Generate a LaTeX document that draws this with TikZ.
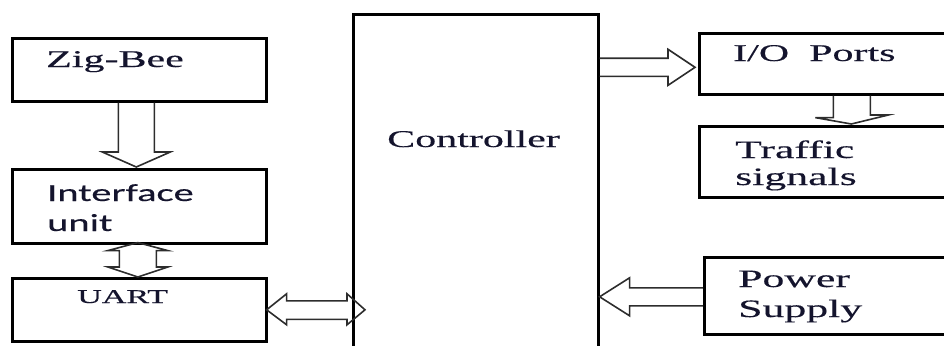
\documentclass[tikz,border=0pt]{standalone}
\usepackage{fontspec}
\usetikzlibrary{calc}
\newfontfamily\stserif[FakeStretch=1.75,FakeBold=0.3]{Liberation Serif}
\newfontfamily\stsans[FakeStretch=1.65,FakeBold=0.3]{Carlito}
\definecolor{txt}{RGB}{20,20,45}
\definecolor{arr}{RGB}{45,45,45}
\begin{document}
\begin{tikzpicture}[x=1pt,y=-1pt,
  box/.style={draw=black,line width=2.6pt,rectangle,inner sep=0pt,anchor=north west},
  lbl/.style={text=txt,inner sep=0pt,anchor=base west,align=left},
  barrow/.style={draw=arr,line width=1.6pt,line join=miter}]
\useasboundingbox (0,0) rectangle (944,345);
\clip (0,0) rectangle (944,345);
% boxes
\node[box,minimum width=254pt,minimum height=63pt] (zig) at (11,37) {};
\node[box,minimum width=254pt,minimum height=74pt] (iface) at (11,168) {};
\node[box,minimum width=254pt,minimum height=63pt] (uart) at (11,277) {};
\node[box,minimum width=245pt,minimum height=360pt] (ctrl) at (352,13) {};
\node[box,minimum width=270pt,minimum height=61pt] (io) at (698,32) {};
\node[box,minimum width=270pt,minimum height=71pt] (traffic) at (698,125) {};
\node[box,minimum width=265pt,minimum height=77pt] (power) at (703,256) {};
% labels
\node[lbl,font=\stserif\fontsize{24}{24}\selectfont] (tzig) at ($(zig.north west)+(35,30)$) {Zig-Bee};
\node[lbl,font=\stsans\fontsize{24.5}{30}\selectfont] (tiface) at ($(iface.north west)+(36,63)$) {Interface\\unit};
\node[lbl,font=\stserif\fontsize{19.5}{20}\selectfont] (tuart) at ($(uart.north west)+(66,26)$) {UART};
\node[lbl,font=\stserif\fontsize{24}{24}\selectfont] (tctrl) at ($(ctrl.north west)+(35,134)$) {Controller};
\node[lbl,font=\stserif\fontsize{24}{24}\selectfont] (tio) at ($(io.north west)+(35,29)$) {I/O\hspace{20pt}Ports};
\node[lbl,font=\stserif\fontsize{25}{27}\selectfont] (ttraffic) at ($(traffic.north west)+(37,60)$) {Traffic\\signals};
\node[lbl,font=\stserif\fontsize{25}{30}\selectfont] (tpower) at ($(power.north west)+(35,61)$) {Power\\Supply};
% block arrows
\draw[barrow] ($(zig.south)+(-21,0)$) -- ($(iface.north)+(-21,-16)$) -- ++(-16,0)
  -- ($(iface.north)+(-3,-1)$) -- ++(34,-15) -- ++(-16,0) -- ($(zig.south)+(15,0)$);
\draw[barrow] ($(iface.south)+(-1.5,-2)$) -- ++(30,8) -- ++(-11.5,0)
  -- ($(uart.north)+(17,-10)$) -- ++(11.5,0) -- ($(uart.north)+(-1.5,0)$)
  -- ++(-30,-10) -- ++(11.5,0) -- ($(iface.south)+(-20,6)$) -- ++(-11.5,0) -- cycle;
\coordinate (u3) at ($(uart.east)+(-1,0)$);
\coordinate (c3) at ($(ctrl.west |- uart.east)+(13,0)$);
\draw[barrow] (u3) -- ++(20,-16) -- ++(0,7) -- ($(c3)+(-18,-9)$) -- ++(0,-7)
  -- (c3) -- ++(-18,15) -- ++(0,-5.5) -- ($(u3)+(20,9.5)$) -- ++(0,5.5) -- cycle;
\coordinate (t4) at ($(io.west)+(-3,3.5)$);
\draw[barrow] ($(ctrl.east |- t4)+(0,-9)$) -- ($(t4)+(-27,-9)$) -- ++(0,-9)
  -- (t4) -- ++(-27,18) -- ++(0,-9) -- ($(ctrl.east |- t4)+(0,9)$);
\draw[barrow] ($(io.south)+(-1,0)$) -- ++(0,22) -- ++(-18,0)
  -- ($(traffic.north)+(17,-1)$) -- ++(37,-9) -- ++(-18,0) -- ($(io.south)+(36,0)$);
\draw[barrow] ($(power.west)+(0,-8)$) -- ($(ctrl.east |- power.west)+(30,-8)$) -- ++(0,-10)
  -- ($(ctrl.east |- power.west)+(0,1)$) -- ++(30,19) -- ++(0,-10) -- ($(power.west)+(0,10)$);
\end{tikzpicture}
\end{document}
